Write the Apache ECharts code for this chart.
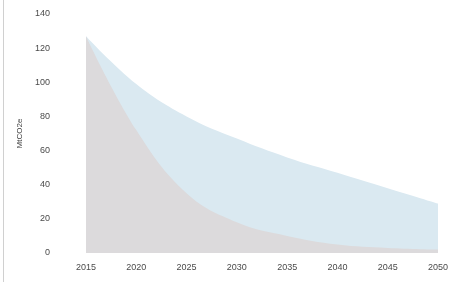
<!DOCTYPE html>
<html><head><meta charset="utf-8">
<script src="https://cdn.jsdelivr.net/npm/echarts@6/dist/echarts.min.js"></script>
<style>html,body{margin:0;padding:0;background:#fff}#c{width:451px;height:282px}</style>
</head><body><div id="c"></div>
<script>
const years = [2015, 2020, 2025, 2030, 2035, 2040, 2045, 2050];
const upperSeries = [127, 99, 80, 67, 56, 47, 38, 29];
const lowerSeries = [127, 72, 35, 18, 10, 5, 3, 2];
const yTicks = [0, 20, 40, 60, 80, 100, 120, 140];
const yTitle = 'MtCO2e';

const chart = echarts.init(document.getElementById('c'));
chart.setOption({
  animation: false,
  grid: {left: 86, right: 7, top: 14, bottom: 29},
  graphic: [{type: 'line', shape: {x1: 3.5, y1: 0, x2: 3.5, y2: 282}, style: {stroke: '#d0d0d0', lineWidth: 1}}],
  xAxis: {
    type: 'value', min: years[0], max: years[years.length - 1], interval: 5,
    axisLine: {show: false}, axisTick: {show: false}, splitLine: {show: false},
    axisLabel: {color: '#4a4a4a', fontSize: 9, fontFamily: 'Liberation Sans', margin: 10,
                formatter: v => String(v)}
  },
  yAxis: {
    type: 'value', min: yTicks[0], max: yTicks[yTicks.length - 1], interval: 20,
    name: yTitle, nameLocation: 'middle', nameGap: 62, nameRotate: 90,
    nameTextStyle: {color: '#404040', fontSize: 8, fontFamily: 'Liberation Sans'},
    axisLine: {show: false}, axisTick: {show: false}, splitLine: {show: false},
    axisLabel: {color: '#4a4a4a', fontSize: 9, fontFamily: 'Liberation Sans', margin: 36}
  },
  series: [
    {type: 'line', smooth: 0.4, symbol: 'none', lineStyle: {width: 0},
     areaStyle: {color: '#dae9f1', opacity: 1},
     data: years.map((y, i) => [y, upperSeries[i]])},
    {type: 'line', smooth: 0.4, symbol: 'none', lineStyle: {width: 0},
     areaStyle: {color: '#dcdadc', opacity: 1},
     data: years.map((y, i) => [y, lowerSeries[i]])}
  ]
});
</script></body></html>
